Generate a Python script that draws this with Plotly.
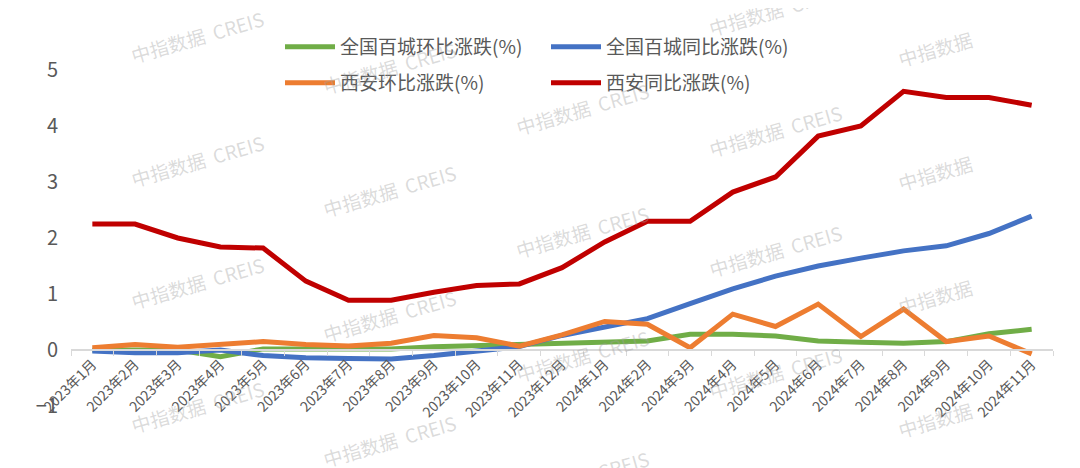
import plotly.graph_objects as go

months = ["2023年1月", "2023年2月", "2023年3月", "2023年4月", "2023年5月", "2023年6月",
          "2023年7月", "2023年8月", "2023年9月", "2023年10月", "2023年11月", "2023年12月",
          "2024年1月", "2024年2月", "2024年3月", "2024年4月", "2024年5月", "2024年6月",
          "2024年7月", "2024年8月", "2024年9月", "2024年10月", "2024年11月"]

national_mom = [0.0, 0.0, 0.0, -0.12, 0.02, 0.02, 0.02, 0.02, 0.06, 0.08, 0.08, 0.12,
                0.14, 0.16, 0.28, 0.28, 0.25, 0.16, 0.14, 0.12, 0.15, 0.29, 0.37]
national_yoy = [-0.02, -0.05, -0.05, 0.0, -0.1, -0.14, -0.15, -0.16, -0.1, -0.03, 0.06, 0.26,
                0.42, 0.56, 0.83, 1.09, 1.32, 1.5, 1.64, 1.77, 1.86, 2.08, 2.39]
xian_mom = [0.04, 0.1, 0.05, 0.1, 0.15, 0.1, 0.07, 0.12, 0.26, 0.22, 0.07, 0.27,
            0.51, 0.46, 0.04, 0.64, 0.42, 0.82, 0.24, 0.73, 0.15, 0.25, -0.07]
xian_yoy = [2.25, 2.25, 2.0, 1.84, 1.82, 1.23, 0.89, 0.89, 1.03, 1.15, 1.18, 1.47,
            1.93, 2.3, 2.3, 2.82, 3.09, 3.82, 4.0, 4.62, 4.51, 4.51, 4.37]

names = ["全国百城环比涨跌(%)", "全国百城同比涨跌(%)", "西安环比涨跌(%)", "西安同比涨跌(%)"]
colors = ["#70ad47", "#4472c4", "#ed7d31", "#c00000"]
series = [national_mom, national_yoy, xian_mom, xian_yoy]
legends = ["legend", "legend", "legend2", "legend2"]

FONT = "Noto Sans CJK SC"
fig = go.Figure()
for name, col, vals, lg in zip(names, colors, series, legends):
    fig.add_trace(go.Scatter(x=months, y=vals, mode="lines", name=name,
                             line=dict(color=col, width=5), legend=lg))

# page body has an 8px default margin; figure coordinates are offset accordingly
OFF = 8
W, H = 1080, 468
ml, mt = 71 - OFF, 70 - OFF
pw, ph = 982, 336
mr, mb = W - ml - pw, H - mt - ph

# watermarks (screen positions of centres)
wm_full = "中指数据  CREIS"
wm_short = "中指数据"
wm = []
for y in [37, 160, 282, 406]:
    wm.append((197, y, wm_full))
for y in [67, 190, 315, 440]:
    wm.append((389, y, wm_full))
for y in [108, 232, 355, 476]:
    wm.append((582, y, wm_full))
for y in [10, 130, 250, 372]:
    wm.append((775, y, wm_full))
for y in [48, 172, 296, 419]:
    wm.append((935, y, wm_short))
for px, py, t in wm:
    fx = (px - OFF - ml) / pw
    fy = (mt + ph - (py - OFF)) / ph
    fig.add_annotation(x=fx, y=fy, xref="paper", yref="paper", text=t, showarrow=False,
                       xanchor="center", yanchor="middle", textangle=-16,
                       font=dict(family=FONT, size=19, color="rgba(160,160,160,0.38)"))

leg_common = dict(orientation="h", x=(280 - OFF) / W, xanchor="left", xref="container",
                  yanchor="middle", yref="container",
                  font=dict(size=19, color="#595959"), entrywidth=201,
                  traceorder="normal", itemwidth=50, bgcolor="rgba(0,0,0,0)")

fig.update_layout(
    width=W, height=H,
    margin=dict(l=ml, r=mr, t=mt, b=mb, autoexpand=False),
    plot_bgcolor="white", paper_bgcolor="white",
    font=dict(family=FONT, color="#595959"),
    legend=dict(y=1 - (47 - OFF) / H, **leg_common),
    legend2=dict(y=1 - (83 - OFF) / H, **leg_common),
    xaxis=dict(type="category", anchor="free", position=(406 - 350) / 336, automargin=False,
               range=[-0.5, len(months) - 0.5],
               showline=True, linecolor="#d9d9d9", linewidth=1.5,
               ticks="outside", ticklen=5, tickcolor="#d9d9d9", tickson="boundaries",
               tickangle=-45, tickfont=dict(size=14, color="#595959"),
               showgrid=False, zeroline=False),
    yaxis=dict(range=[-1, 5], dtick=1, showgrid=False, zeroline=False, showline=False,
               automargin=False,
               tickfont=dict(size=20, color="#595959"), ticks="", ticklabelstandoff=12),
    showlegend=True,
)

fig.write_html("out.html")
